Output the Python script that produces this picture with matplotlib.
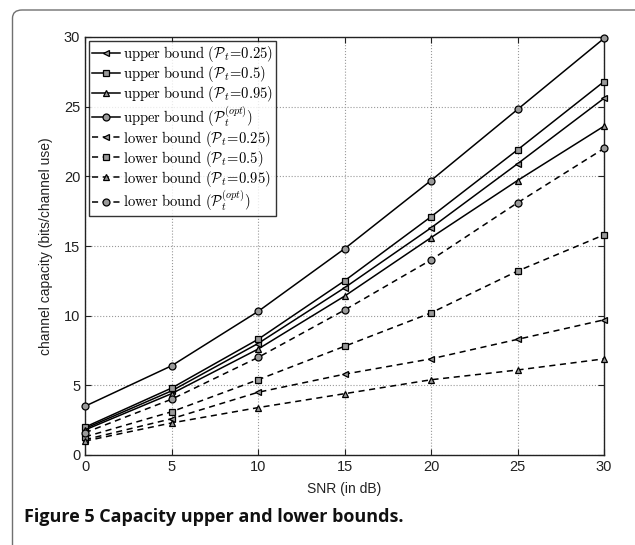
import matplotlib
matplotlib.use("Agg")
import matplotlib.pyplot as plt
from matplotlib.patches import FancyBboxPatch

snr = [0, 5, 10, 15, 20, 25, 30]
upper_025 = [1.9, 4.6, 8.0, 12.0, 16.3, 20.9, 25.6]
upper_05 = [2.0, 4.8, 8.3, 12.5, 17.1, 21.9, 26.8]
upper_095 = [1.8, 4.4, 7.6, 11.4, 15.6, 19.7, 23.6]
upper_opt = [3.5, 6.4, 10.3, 14.8, 19.7, 24.8, 29.9]
lower_025 = [1.1, 2.6, 4.5, 5.8, 6.9, 8.3, 9.7]
lower_05 = [1.3, 3.1, 5.4, 7.8, 10.2, 13.2, 15.8]
lower_095 = [1.0, 2.3, 3.4, 4.4, 5.4, 6.1, 6.9]
lower_opt = [1.6, 4.0, 7.0, 10.4, 14.0, 18.1, 22.0]

labels = [
    r'$\mathrm{upper\ bound\ }(\mathcal{P}_t\!=\!0.25)$',
    r'$\mathrm{upper\ bound\ }(\mathcal{P}_t\!=\!0.5)$',
    r'$\mathrm{upper\ bound\ }(\mathcal{P}_t\!=\!0.95)$',
    r'$\mathrm{upper\ bound\ }(\mathcal{P}_t^{(opt)})$',
    r'$\mathrm{lower\ bound\ }(\mathcal{P}_t\!=\!0.25)$',
    r'$\mathrm{lower\ bound\ }(\mathcal{P}_t\!=\!0.5)$',
    r'$\mathrm{lower\ bound\ }(\mathcal{P}_t\!=\!0.95)$',
    r'$\mathrm{lower\ bound\ }(\mathcal{P}_t^{(opt)})$',
]

plt.rcParams['font.family'] = ['Liberation Sans', 'DejaVu Sans']
plt.rcParams['mathtext.fontset'] = 'cm'

fig = plt.figure(figsize=(6.35, 5.45), dpi=100)
W, H = 635, 545

# rounded frame
frame = FancyBboxPatch((12.5 / W, -30 / H), (650 - 12.5) / W, (535 + 30) / H,
                       boxstyle="round,pad=0,rounding_size=0.015",
                       transform=fig.transFigure, fill=False,
                       edgecolor='#707070', linewidth=1.0, clip_on=False)
fig.patches.append(frame)

ax = fig.add_axes([85 / W, 1 - 455 / H, (604 - 85) / W, (455 - 37) / H])

series = [
    (upper_025, '-', '<'),
    (upper_05, '-', 's'),
    (upper_095, '-', '^'),
    (upper_opt, '-', 'o'),
    (lower_025, '--', '<'),
    (lower_05, '--', 's'),
    (lower_095, '--', '^'),
    (lower_opt, '--', 'o'),
]
for (vals, ls, mk), lab in zip(series, labels):
    ax.plot(snr, vals, linestyle=ls, marker=mk, color='black', linewidth=1.1,
            markersize=5, markerfacecolor='#9a9a9a', markeredgecolor='black',
            markeredgewidth=0.9, label=lab, clip_on=False, zorder=3,
            dashes=(4, 3) if ls == '--' else (None, None))

ax.set_xlim(0, 30)
ax.set_ylim(0, 30)
ax.set_xticks(snr)
ax.set_yticks([0, 5, 10, 15, 20, 25, 30])
ax.tick_params(direction='in', labelsize=10.5, length=4, top=True, right=True,
               colors='#222222')
ax.grid(True, linestyle=':', color='#999999', linewidth=0.8)
for s in ax.spines.values():
    s.set_linewidth(1.0)
    s.set_color('#222222')
ax.set_xlabel('SNR (in dB)', fontsize=10, color='#222222', labelpad=6)
ax.set_ylabel('channel capacity (bits/channel use)', fontsize=10, color='#222222', labelpad=8)

leg = ax.legend(loc='upper left', fontsize=10.5, frameon=True, fancybox=False,
                edgecolor='black', handlelength=1.9, handletextpad=0.2,
                labelspacing=0.0, borderpad=0.2, borderaxespad=0.3)
leg.get_frame().set_linewidth(1.0)
leg.set_zorder(5)

fig.text(24 / W, 1 - 517 / H, 'Figure 5 Capacity upper and lower bounds.',
         fontsize=13, fontweight='bold', family=['Open Sans', 'DejaVu Sans'],
         va='center', ha='left', color='#111111')

fig.savefig('out.png', dpi=100)
